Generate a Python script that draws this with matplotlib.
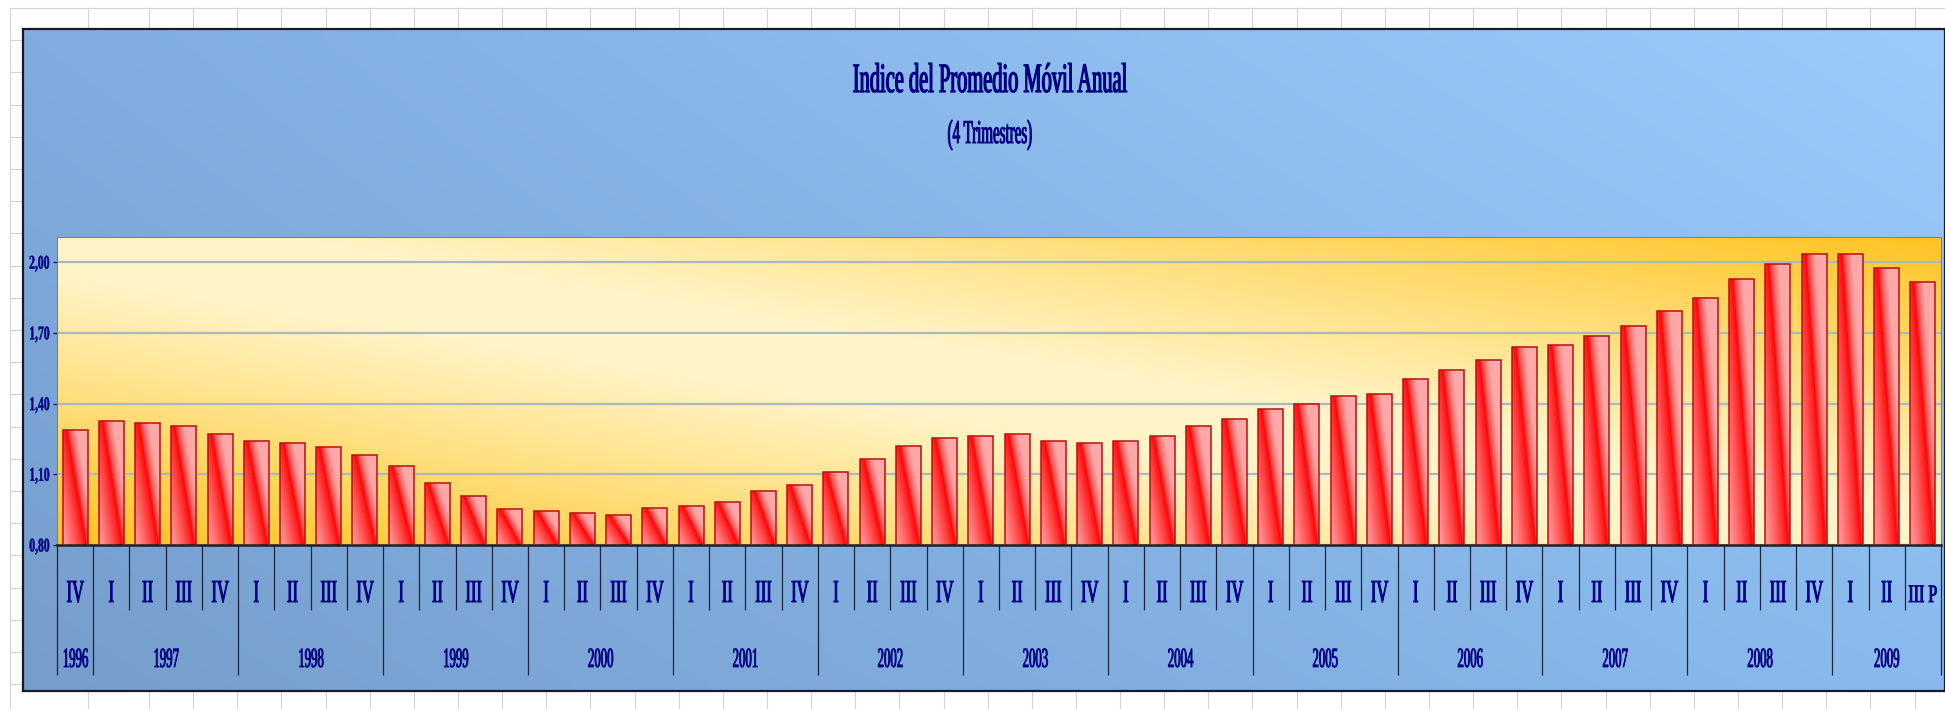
import numpy as np
import matplotlib
matplotlib.use("Agg")
import matplotlib.pyplot as plt
from matplotlib.patheffects import AbstractPathEffect
from matplotlib.transforms import Affine2D
from matplotlib.colors import to_rgb

# --- datos -------------------------------------------------------------
anios = ['1996', '1997', '1998', '1999', '2000', '2001', '2002', '2003',
         '2004', '2005', '2006', '2007', '2008', '2009']
trimestres = [
    ['IV'],
    ['I', 'II', 'III', 'IV'], ['I', 'II', 'III', 'IV'], ['I', 'II', 'III', 'IV'],
    ['I', 'II', 'III', 'IV'], ['I', 'II', 'III', 'IV'], ['I', 'II', 'III', 'IV'],
    ['I', 'II', 'III', 'IV'], ['I', 'II', 'III', 'IV'], ['I', 'II', 'III', 'IV'],
    ['I', 'II', 'III', 'IV'], ['I', 'II', 'III', 'IV'], ['I', 'II', 'III', 'IV'],
    ['I', 'II', 'III P'],
]
indice = [1.288,
          1.327, 1.319, 1.304, 1.271,
          1.240, 1.231, 1.216, 1.183,
          1.135, 1.063, 1.007, 0.951,
          0.943, 0.934, 0.926, 0.958,
          0.965, 0.981, 1.030, 1.053,
          1.110, 1.165, 1.221, 1.253,
          1.262, 1.271, 1.240, 1.231,
          1.240, 1.262, 1.304, 1.335,
          1.376, 1.400, 1.431, 1.439,
          1.504, 1.543, 1.585, 1.640,
          1.647, 1.687, 1.728, 1.793,
          1.848, 1.927, 1.994, 2.035,
          2.035, 1.977, 1.915]
y_ticks = [0.80, 1.10, 1.40, 1.70, 2.00]
y_labels = ['0,80', '1,10', '1,40', '1,70', '2,00']

titulo = 'Indice del Promedio Móvil Anual'
subtitulo = '(4 Trimestres)'

NAVY = '#000080'
SERIF = 'Liberation Serif'


class Squeeze(AbstractPathEffect):
    """Compress text horizontally (the original fonts are very narrow)."""
    def __init__(self, sx=0.5, anchor=0.5, lw=0.6):
        super().__init__()
        self.sx = sx
        self.anchor = anchor
        self.lw = lw

    def draw_path(self, renderer, gc, tpath, affine, rgbFace=None):
        ext = tpath.get_extents()
        x0 = ext.x0 + self.anchor * ext.width
        sq = Affine2D().translate(-x0, 0).scale(self.sx, 1).translate(x0, 0)
        gc0 = renderer.new_gc()
        gc0.copy_properties(gc)
        if self.lw and rgbFace is not None:
            gc0.set_linewidth(self.lw)
            gc0.set_foreground(rgbFace)
            gc0.set_joinstyle('round')
        renderer.draw_path(gc0, tpath, sq + affine, rgbFace)
        gc0.restore()


W, H = 1945, 709
fig = plt.figure(figsize=(W / 100, H / 100), dpi=100)
fig.patch.set_facecolor('white')

# hoja de calculo detras del grafico
bg = fig.add_axes([0, 0, 1, 1], zorder=-10)
bg.set_xlim(0, W)
bg.set_ylim(H, 0)
bg.axis('off')
for c in [10, 88] + list(np.arange(149, W, 44.14)):
    bg.plot([c, c], [8, H], color='#d4d4d4', lw=0.8)
for r in np.arange(8, H, 32.2):
    bg.plot([10, W], [r, r], color='#d4d4d4', lw=0.8)

# fondo azul del grafico
cb = fig.add_axes([23 / W, 1 - 691 / H, 1 - 23 / W, (691 - 29) / H], zorder=-5)
u = np.linspace(0, 1, 256)[None, :, None]
v = np.linspace(0, 1, 64)[:, None, None]
tl, tr = np.array(to_rgb('#80ace0')), np.array(to_rgb('#9acbfb'))
bl, br = np.array(to_rgb('#769ecc')), np.array(to_rgb('#8abaed'))
cb.imshow((1 - v) * ((1 - u) * tl + u * tr) + v * ((1 - u) * bl + u * br),
          extent=[0, 1, 0, 1], aspect='auto', interpolation='bilinear')
cb.set_xticks([])
cb.set_yticks([])
for s in cb.spines.values():
    s.set_color('#1a1a2a')
    s.set_linewidth(1.6)

# area de trazado
ax = fig.add_axes([57 / W, 1 - 545 / H, (1941 - 57) / W, (545 - 237) / H])
ax.patch.set_visible(False)
uu = np.linspace(0, 1, 400)[None, :]
vv = np.linspace(1, 0, 100)[:, None]
t = (uu + vv) / 2
g = np.clip((np.abs(t - 0.5) * 2 - 0.12) / 0.88, 0, 1) ** 1.0
pale, gold = np.array(to_rgb('#fff4c8')), np.array(to_rgb('#ffc422'))
ax.imshow(pale * (1 - g)[..., None] + gold * g[..., None], extent=[0, 1, 0, 1],
          transform=ax.transAxes, aspect='auto', zorder=0, interpolation='bilinear')

# barras con degradado rojo
n = len(indice)
x = np.arange(n)
bars = ax.bar(x, indice, width=0.69, facecolor='none', edgecolor='#b81010',
              linewidth=1.1, zorder=3)
bu = np.linspace(0, 1, 40)[None, :]
bv = np.linspace(1, 0, 160)[:, None]
sd = bu + 0.8 * bv - 0.95
left = np.clip(-sd / 0.9, 0, 1) ** 0.8
right = np.clip(sd / 0.4, 0, 1) ** 0.6
red = np.array(to_rgb('#ff0000'))
pink = np.array(to_rgb('#ff9a9a'))
pink2 = np.array(to_rgb('#ffa8a8'))
bar_img = red + (pink - red) * left[..., None] + (pink2 - red) * right[..., None]
ymin, ymax = 0.80, 2.107
for rect in bars:
    im = ax.imshow(bar_img, extent=[rect.get_x(), rect.get_x() + rect.get_width(),
                                    ymin, rect.get_height()],
                   aspect='auto', zorder=2, interpolation='bilinear')
    im.set_clip_path(rect)

ax.set_xlim(-0.5, n - 0.5)
ax.set_ylim(ymin, ymax)
ax.set_xticks([])
ax.set_yticks(y_ticks, y_labels)
ax.yaxis.grid(True, color='#aab8c4', lw=1.6, zorder=1)
ax.set_axisbelow(True)
ax.tick_params(axis='y', length=3, width=1, color='#202040', pad=2,
               labelsize=14, labelcolor=NAVY)
for lbl in ax.get_yticklabels():
    lbl.set_fontfamily(SERIF)
    lbl.set_fontweight('bold')
    lbl.set_path_effects([Squeeze(0.6, 1.0, 0.3)])
for side in ['left', 'top', 'right']:
    ax.spines[side].set_color('#808080')
    ax.spines[side].set_linewidth(0.8)
ax.spines['bottom'].set_color('#202020')
ax.spines['bottom'].set_linewidth(1.8)

# eje de categorias: trimestres y anios
xt = ax.get_xaxis_transform()
pos = 0
year_edges = [-0.5]
for anio, qs in zip(anios, trimestres):
    for q in qs:
        size, sx = (23, 0.52) if len(q) < 4 else (18, 0.64)
        ax.text(pos, -0.185, q, transform=xt, ha='center', va='baseline',
                fontsize=size, family=SERIF, color=NAVY,
                path_effects=[Squeeze(sx, 0.5, 0.7)])
        pos += 1
    ax.text(pos - len(qs) / 2 - 0.5, -0.396, anio, transform=xt, ha='center',
            va='baseline', fontsize=20, family=SERIF, color=NAVY,
            path_effects=[Squeeze(0.46, 0.5, 0.6)])
    year_edges.append(pos - 0.5)
q_edges = [e for e in np.arange(0.5, n - 1, 1.0) if e not in year_edges]
ax.vlines(q_edges, -0.211, 0, transform=xt, colors='#1c2640', lw=0.9, clip_on=False)
ax.vlines(year_edges, -0.422, 0, transform=xt, colors='#1c2640', lw=0.9, clip_on=False)

# titulos
fig.text(990 / W, 1 - 92 / H, titulo, ha='center', va='baseline', fontsize=30,
         family=SERIF, color=NAVY, path_effects=[Squeeze(0.49, 0.5, 0.9)])
fig.text(990 / W, 1 - 143 / H, subtitulo, ha='center', va='baseline', fontsize=24,
         family=SERIF, color=NAVY, path_effects=[Squeeze(0.45, 0.5, 0.7)])

fig.savefig('out.png', dpi=100)
